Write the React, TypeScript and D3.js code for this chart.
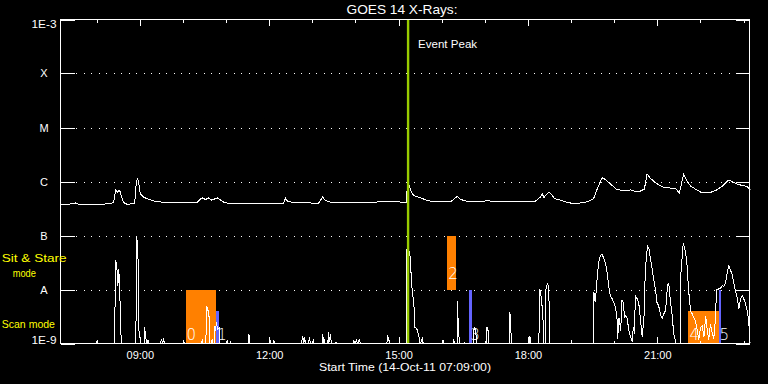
import React, { useEffect } from "react";
import * as d3 from "d3";

// ---- Data (time in decimal UT hours on 14-Oct-11, flux in W/m^2) ----
const START_HOUR = 7.15; // 07:09
const END_HOUR = 23.15;

const fluxCurve: [number, number][] = [
  [7.15, 3.83e-7], [7.29, 3.78e-7], [7.43, 3.87e-7], [7.5, 4.0e-7], [7.57, 3.78e-7], [7.73, 3.7e-7],
  [7.89, 3.78e-7], [8.03, 3.67e-7], [8.19, 3.83e-7], [8.31, 3.89e-7], [8.38, 4.08e-7], [8.43, 6.96e-7],
  [8.47, 6.39e-7], [8.52, 6.9e-7], [8.56, 5.5e-7], [8.61, 4.08e-7], [8.68, 3.83e-7], [8.77, 3.83e-7],
  [8.87, 4.0e-7], [8.91, 1.04e-6], [8.94, 1.12e-6], [8.96, 1.0e-6], [9.0, 5.99e-7], [9.07, 5.16e-7],
  [9.17, 4.74e-7], [9.31, 4.35e-7], [9.47, 4.17e-7], [9.7, 4.14e-7], [10.16, 4.14e-7], [10.33, 4.17e-7],
  [10.4, 4.74e-7], [10.44, 4.95e-7], [10.51, 4.64e-7], [10.58, 4.95e-7], [10.65, 4.54e-7], [10.72, 4.74e-7],
  [10.79, 4.95e-7], [10.86, 4.54e-7], [10.93, 4.17e-7], [11.05, 3.91e-7], [11.67, 3.91e-7], [12.02, 3.91e-7],
  [12.32, 3.94e-7], [12.37, 4.95e-7], [12.41, 4.35e-7], [12.53, 4.12e-7], [12.71, 4.08e-7], [12.95, 4.0e-7],
  [13.13, 3.91e-7], [13.23, 5.21e-7], [13.29, 4.45e-7], [13.41, 4.17e-7], [13.76, 4.12e-7], [14.11, 4.08e-7],
  [14.45, 4.14e-7], [14.69, 4.35e-7], [14.8, 4.26e-7], [14.94, 4.3e-7], [15.03, 4.17e-7], [15.17, 4.17e-7],
  [15.2, 1.04e-6], [15.27, 6.81e-7], [15.34, 5.5e-7], [15.5, 5.0e-7], [15.65, 4.45e-7], [15.8, 4.21e-7],
  [16.19, 4.21e-7], [16.35, 5.27e-7], [16.43, 4.64e-7], [16.56, 4.35e-7], [16.77, 4.26e-7], [16.96, 4.21e-7],
  [17.05, 4.54e-7], [17.12, 4.35e-7], [17.58, 4.32e-7], [17.93, 4.35e-7], [18.16, 4.32e-7], [18.28, 5.16e-7],
  [18.32, 5.92e-7], [18.36, 5.05e-7], [18.42, 5.74e-7], [18.47, 6.34e-7], [18.54, 5.74e-7], [18.6, 4.84e-7],
  [18.74, 4.54e-7], [18.88, 4.17e-7], [19.05, 3.87e-7], [19.21, 4.0e-7], [19.39, 4.26e-7], [19.51, 4.78e-7],
  [19.6, 7.42e-7], [19.71, 1.17e-6], [19.79, 1.09e-6], [19.9, 8.99e-7], [20.06, 7.02e-7], [20.25, 6.81e-7],
  [20.37, 6.96e-7], [20.48, 6.53e-7], [20.6, 6.67e-7], [20.69, 7.26e-7], [20.75, 1.39e-6], [20.83, 1.14e-6],
  [20.97, 9.18e-7], [21.13, 7.84e-7], [21.29, 7.58e-7], [21.43, 7.26e-7], [21.5, 6.07e-7], [21.55, 9.18e-7],
  [21.6, 1.35e-6], [21.67, 1.04e-6], [21.76, 8.25e-7], [21.87, 7.26e-7], [21.99, 6.39e-7], [22.11, 6.12e-7],
  [22.22, 6.25e-7], [22.36, 6.96e-7], [22.5, 8.25e-7], [22.65, 1.075e-6], [22.73, 9.79e-7], [22.84, 8.99e-7],
  [22.96, 8.43e-7], [23.07, 8.08e-7], [23.15, 7.02e-7],
];

// lower trace: log10 values
const lowerCurve: [number, number][] = [
  [7.15, -9], [7.98, -9], [8.0, -8.94], [8.02, -9],
  [8.4, -9], [8.41, -8.56], [8.43, -7.45], [8.46, -7.63], [8.48, -7.93], [8.5, -7.63], [8.52, -7.88], [8.54, -8.54], [8.56, -9],
  [8.87, -9], [8.88, -8.98], [8.9, -8.76], [8.91, -7.02], [8.94, -7.15], [8.95, -7.52], [8.97, -8.76], [8.99, -8.88], [9.01, -9],
  [9.09, -9], [9.1, -8.7], [9.13, -8.89], [9.14, -9],
  [9.17, -9], [9.18, -8.93], [9.2, -9],
  [9.47, -9], [9.49, -8.91], [9.52, -9], [9.54, -8.9], [9.56, -9],
  [10.0, -9], [10.01, -8.94], [10.02, -9],
  [10.42, -9], [10.44, -8.91], [10.45, -9],
  [10.52, -9], [10.54, -8.3], [10.56, -8.39], [10.59, -8.38], [10.61, -9],
  [10.65, -9], [10.67, -8.91], [10.68, -9],
  [10.72, -9], [10.73, -8.67], [10.74, -8.76], [10.77, -8.61], [10.79, -8.74], [10.83, -8.71], [10.84, -9],
  [11.0, -9], [11.02, -8.94], [11.03, -9],
  [11.08, -9], [11.09, -8.98], [11.1, -9],
  [11.51, -9], [11.52, -8.82], [11.53, -9],
  [11.99, -9], [12.0, -8.89], [12.02, -9],
  [12.09, -9], [12.1, -8.94], [12.11, -9],
  [12.74, -9], [12.75, -8.94], [12.77, -8.87], [12.79, -9], [12.81, -8.89], [12.83, -9],
  [12.9, -9], [12.92, -8.89], [12.95, -9],
  [12.99, -9], [13.02, -8.94], [13.03, -9],
  [13.22, -9], [13.23, -8.82], [13.25, -9], [13.26, -8.91], [13.27, -9],
  [13.35, -9], [13.36, -8.79], [13.37, -9], [13.41, -8.83], [13.43, -9],
  [13.53, -9], [13.54, -8.98], [13.55, -9],
  [13.94, -9], [13.95, -8.93], [13.97, -9], [14.01, -8.94], [14.04, -9], [14.08, -8.93], [14.11, -9],
  [14.72, -9], [14.73, -8.85], [14.76, -8.91], [14.78, -9],
  [15.0, -9], [15.01, -8.89], [15.02, -9],
  [15.17, -9], [15.175, -7.26], [15.25, -7.31], [15.28, -7.71], [15.31, -8.08], [15.34, -8.2], [15.36, -8.51],
  [15.37, -8.7], [15.4, -8.72], [15.43, -8.76], [15.47, -8.91], [15.48, -8.98], [15.5, -9], [15.54, -8.91], [15.56, -9],
  [16.01, -9], [16.02, -8.94], [16.03, -9],
  [16.26, -9], [16.27, -8.91], [16.28, -9],
  [16.345, -9], [16.35, -8.22], [16.37, -8.56], [16.39, -8.88], [16.41, -9],
  [16.51, -9], [16.52, -8.98], [16.54, -9],
  [16.725, -9], [16.73, -8.76], [16.76, -8.7], [16.79, -8.87], [16.81, -9],
  [17.035, -9], [17.04, -8.69], [17.07, -8.78], [17.08, -9],
  [17.565, -9], [17.57, -8.41], [17.59, -8.7], [17.61, -9],
  [18.025, -9], [18.03, -8.88], [18.05, -8.91], [18.06, -9],
  [18.245, -9], [18.25, -7.99], [18.28, -8.02], [18.32, -8.33], [18.34, -8.57], [18.345, -9],
  [18.395, -9], [18.4, -8.02], [18.44, -7.89], [18.47, -7.94], [18.5, -9],
  [18.995, -9], [19.0, -8.94], [19.01, -9],
  [19.515, -9], [19.52, -8.05], [19.55, -8.24], [19.59, -7.83], [19.63, -7.49], [19.67, -7.37], [19.71, -7.35],
  [19.75, -7.43], [19.79, -7.52], [19.83, -7.71], [19.86, -7.93], [19.9, -8.11], [19.94, -8.17], [19.98, -8.24],
  [20.02, -8.33], [20.06, -8.57], [20.07, -8.91], [20.1, -8.52], [20.14, -8.76], [20.17, -8.2], [20.2, -8.24],
  [20.23, -8.51], [20.26, -8.48], [20.29, -8.54], [20.33, -8.76], [20.37, -8.88], [20.41, -8.98], [20.43, -8.7],
  [20.46, -8.82], [20.48, -8.11], [20.52, -8.17], [20.56, -8.26], [20.6, -8.57], [20.64, -8.88], [20.68, -8.51],
  [20.71, -7.68], [20.74, -7.34], [20.77, -7.2], [20.8, -7.26], [20.83, -7.43], [20.87, -7.62], [20.91, -7.83],
  [20.95, -8.02], [20.98, -8.24], [21.02, -8.3], [21.06, -8.45], [21.1, -8.54], [21.14, -8.45], [21.18, -8.39],
  [21.22, -7.99], [21.24, -7.88], [21.26, -7.93], [21.29, -8.2], [21.33, -8.45], [21.37, -8.82], [21.39, -8.88], [21.42, -9],
  [21.525, -9], [21.53, -7.77], [21.59, -7.15], [21.62, -7.22], [21.65, -7.34], [21.68, -7.56], [21.71, -7.96],
  [21.74, -8.24], [21.77, -8.42], [21.8, -8.45], [21.83, -8.51], [21.87, -8.57], [21.91, -8.73], [21.95, -8.94],
  [21.99, -8.7], [22.03, -8.67], [22.07, -8.88], [22.11, -8.5], [22.15, -8.76], [22.18, -8.94], [22.22, -8.64],
  [22.26, -8.79], [22.3, -8.91], [22.34, -8.51], [22.36, -8.01], [22.41, -7.99], [22.45, -7.99], [22.49, -7.93],
  [22.53, -7.94], [22.57, -7.89], [22.61, -7.68], [22.65, -7.56], [22.69, -7.65], [22.72, -7.71], [22.76, -7.86],
  [22.8, -8.02], [22.84, -8.14], [22.88, -8.36], [22.92, -8.17], [22.96, -8.11], [22.99, -8.17], [23.03, -8.24],
  [23.07, -8.39], [23.11, -8.57], [23.13, -8.94], [23.15, -9],
];

// Observation windows (start/end hour, low/high log10 flux)
const obsIds = ["0", "1", "2", "3", "4", "5"];
const obsStart = [10.05, 10.76, 16.12, 16.63, 21.71, 22.41];
const obsEnd = [10.76, 10.815, 16.31, 16.69, 22.41, 22.47];
const obsLow = [-9, -9, -8, -9, -9, -9];
const obsHigh = [-8, -8.39, -7, -8, -8.39, -8];
const obsKind = ["raster", "sns", "raster", "sns", "raster", "sns"];

const eventPeakHour = 15.21;

const yTickValues = [1e-3, 1e-4, 1e-5, 1e-6, 1e-7, 1e-8, 1e-9];
const yTickLabels = ["1E-3", "X", "M", "C", "B", "A", "1E-9"];
const xMajorHours = [9, 12, 15, 18, 21];
const xMajorLabels = ["09:00", "12:00", "15:00", "18:00", "21:00"];
const xMinorHours = [8, 10, 11, 13, 14, 16, 17, 19, 20, 22, 23];

const W = 768, H = 384;
const L = 60.5, R = 750.5, T = 19.5, B = 343.5;
const FONT = "'Liberation Sans', Arial, sans-serif";

export default function App() {
  useEffect(() => {
    document.body.style.margin = "0";
    document.body.style.background = "#000";
  }, []);

  const x = d3.scaleLinear().domain([START_HOUR, END_HOUR]).range([L, R]);
  const y = d3.scaleLog().domain([1e-9, 1e-3]).range([B, T]);
  const yl = (v: number) => y(Math.pow(10, Math.max(v, -9)));

  const upperLine = d3.line<[number, number]>().x((d) => x(d[0])).y((d) => y(d[1]))(fluxCurve) || "";
  const lowerLine = d3.line<[number, number]>().x((d) => x(d[0])).y((d) => yl(d[1]))(lowerCurve) || "";

  const gx = x(eventPeakHour);

  return (
    <svg width={W} height={H} style={{ position: "absolute", left: 0, top: 0, background: "#000" }}>
      <rect x={0} y={0} width={W} height={H} fill="#000" />
      <defs>
        <clipPath id="plot">
          <rect x={L} y={T} width={R - L} height={B - T} />
        </clipPath>
      </defs>
      {/* title */}
      <text x={402} y={14} fill="#fff" fontFamily={FONT} fontSize={13} textAnchor="middle" textLength={111} lengthAdjust="spacingAndGlyphs">
        GOES 14 X-Rays:
      </text>

      {/* dotted gridlines */}
      {yTickValues.slice(1, -1).map((v, i) => (
        <line key={"g" + i} x1={L + 15.5} x2={R - 16} y1={Math.round(y(v))} y2={Math.round(y(v))}
          stroke="#fff" strokeWidth={1} strokeDasharray="1 6.5" shapeRendering="crispEdges" />
      ))}

      {/* observation boxes */}
      {obsIds.map((id, i) => {
        const x0 = x(obsStart[i]), x1 = x(obsEnd[i]);
        const y0 = yl(obsHigh[i]), y1 = yl(obsLow[i]);
        return (
          <rect key={"o" + id} x={x0} y={y0} width={Math.max(x1 - x0, 2.5)} height={y1 - y0}
            fill={obsKind[i] === "raster" ? "#ff8000" : "#6464ff"} shapeRendering="crispEdges" />
        );
      })}

      <g clipPath="url(#plot)">
        <path d={lowerLine} fill="none" stroke="#fff" strokeWidth={1} shapeRendering="crispEdges" />
        <path d={upperLine} fill="none" stroke="#fff" strokeWidth={1} shapeRendering="crispEdges" />
      </g>

      {/* observation labels */}
      {obsIds.map((id, i) => (
        <text key={"l" + id} x={x(obsStart[i]) + 1} y={yl(obsLow[i]) - (obsLow[i] > -9 ? 11 : 4)}
          fill="#fff" fontFamily="'DejaVu Sans', sans-serif" fontWeight={200} fontSize={15}>
          {id}
        </text>
      ))}

      {/* event peak */}
      <rect x={gx - 1.2} y={T} width={2.4} height={B - T} fill="#99cc00" />
      <text x={gx + 10} y={48} fill="#fff" fontFamily={FONT} fontSize={11} textLength={59} lengthAdjust="spacingAndGlyphs">
        Event Peak
      </text>

      {/* frame */}
      <rect x={L} y={T} width={R - L - 1} height={B - T} fill="none" stroke="#fff" strokeWidth={1} shapeRendering="crispEdges" />

      {/* y ticks + labels */}
      {yTickValues.map((v, i) => {
        const yy = Math.round(y(v));
        const isEnd = i === 0 || i === yTickValues.length - 1;
        return (
          <g key={"y" + i}>
            <line x1={L} x2={L + 14} y1={yy} y2={yy} stroke="#fff" shapeRendering="crispEdges" />
            <line x1={R - 15} x2={R - 1} y1={yy} y2={yy} stroke="#fff" shapeRendering="crispEdges" />
            {isEnd ? (
              <text x={56.5} y={i === 0 ? yy + 7.5 : yy} fill="#fff" fontFamily={FONT} fontSize={11}
                textAnchor="end" textLength={25} lengthAdjust="spacingAndGlyphs">
                {yTickLabels[i]}
              </text>
            ) : (
              <text x={44} y={yy + 4} fill="#fff" fontFamily={FONT} fontSize={11} textAnchor="middle">
                {yTickLabels[i]}
              </text>
            )}
          </g>
        );
      })}

      {/* x ticks */}
      {xMinorHours.map((h) => (
        <g key={"xm" + h}>
          <line x1={x(h)} x2={x(h)} y1={T} y2={T + 3} stroke="#fff" shapeRendering="crispEdges" />
          <line x1={x(h)} x2={x(h)} y1={B} y2={B - 3} stroke="#fff" shapeRendering="crispEdges" />
        </g>
      ))}
      {xMajorHours.map((h, i) => (
        <g key={"xM" + h}>
          <line x1={x(h)} x2={x(h)} y1={T} y2={T + 6.5} stroke="#fff" shapeRendering="crispEdges" />
          <line x1={x(h)} x2={x(h)} y1={B} y2={B - 6.5} stroke="#fff" shapeRendering="crispEdges" />
          <text x={x(h)} y={358.7} fill="#fff" fontFamily={FONT} fontSize={11} textAnchor="middle">
            {xMajorLabels[i]}
          </text>
        </g>
      ))}
      <text x={405} y={371} fill="#fff" fontFamily={FONT} fontSize={11} textAnchor="middle" textLength={172} lengthAdjust="spacingAndGlyphs">
        Start Time (14-Oct-11 07:09:00)
      </text>

      {/* mode labels */}
      <text x={1.7} y={262} fill="#ffff00" fontFamily={FONT} fontSize={11} textLength={65} lengthAdjust="spacingAndGlyphs">
        Sit &amp; Stare
      </text>
      <text x={12.7} y={276.5} fill="#ffff00" fontFamily={FONT} fontSize={11} textLength={23.3} lengthAdjust="spacingAndGlyphs">
        mode
      </text>
      <text x={1.7} y={327.5} fill="#ffff00" fontFamily={FONT} fontSize={11.5} textLength={53.3} lengthAdjust="spacingAndGlyphs">
        Scan mode
      </text>
    </svg>
  );
}
